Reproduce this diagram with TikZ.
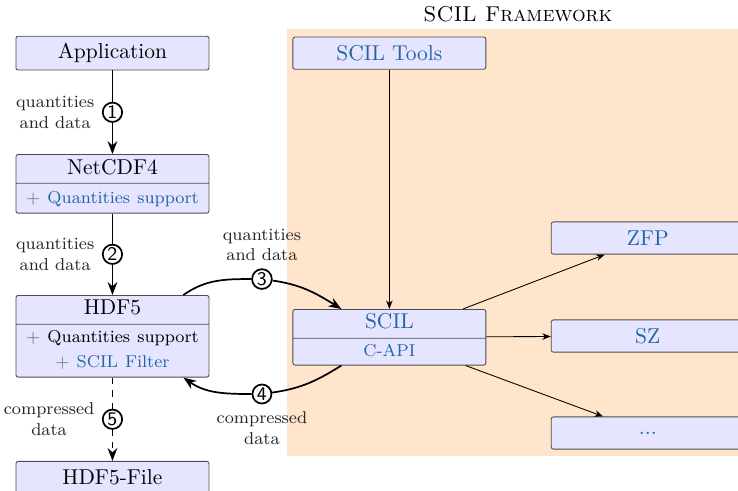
\documentclass[tikz,border=0pt]{standalone}
\usepackage{tikz}
\usetikzlibrary{positioning,shapes.multipart,arrows.meta}

\definecolor{scilblau}{RGB}{35,100,165}
\newcommand{\pluszeichen}{\textcolor{black!55}{+}}
% unsichtbare Stuetze: Tiefe, Gesamthoehe
\newcommand{\stuetze}[2]{\rule[-#1]{0pt}{#2}}

\begin{document}
\begin{tikzpicture}[
    kasten/.style={draw=black!70, fill=blue!10, rounded corners=1pt, text width=85pt,
        align=center, inner xsep=2.4pt, minimum height=15pt},
    doppel/.style={kasten, rectangle split, rectangle split parts=2, inner ysep=0.5pt,
        minimum height=0pt},
    nummer/.style={circle, draw, thick, solid, fill=white, inner sep=0.5pt,
        minimum size=8.5pt, font=\sffamily\small},
    notiz/.style={align=center, font=\footnotesize, text=black!85},
    fluss/.style={thick, -{Stealth[length=6pt,width=4.5pt]}},
    fein/.style={thin, -{Stealth[length=4pt,width=3pt]}}
  ]
    % Bildausschnitt
    \useasboundingbox (0,0) rectangle (12.07,8.03);
    \clip (0,0) rectangle (12.07,8.03);

    % Hintergrund des Frameworks
    \fill[orange!20] (4.692,0.572) rectangle (12.25,7.554);
    \node (titel) at (8.47,7.80) {\textsc{SCIL Framework}};

    % Linke Spalte
    \node[kasten] (app) at (1.839,7.161) {Application};
    \node[doppel, anchor=north] (net) at (1.839,5.510)
        {\strut NetCDF4 \nodepart{two} \footnotesize\stuetze{4pt}{12.5pt}\pluszeichen\
         \textcolor{scilblau}{Quantities support}};
    \node[doppel, anchor=north] (hdf) at (1.839,3.205)
        {\strut HDF5 \nodepart{two} \footnotesize\stuetze{0pt}{8pt}\pluszeichen\ Quantities support\\[-0.4pt]
         \pluszeichen\ \textcolor{scilblau}{SCIL Filter}\stuetze{3.6pt}{3.6pt}};
    \node[kasten, anchor=north] (datei) at (1.839,0.4905) {HDF5-File};

    % Framework-Kaesten
    \node[kasten, text=scilblau] (tools) at (6.368,7.161) {SCIL Tools};
    \node[doppel, anchor=north, text=scilblau] (scil) at (6.368,2.976)
        {\strut SCIL \nodepart{two} \footnotesize\stuetze{3.3pt}{11.1pt}C-API};
    \node[kasten, text=scilblau, anchor=west] (zfp) at (9.009,4.137) {ZFP};
    \node[kasten, text=scilblau, anchor=west] (sz) at (9.009,2.534) {SZ};
    \node[kasten, text=scilblau, anchor=west] (rest) at (9.009,0.948) {...};

    % Datenfluss links
    \draw[fluss] (app) -- node[nummer] (n1) {1} (net);
    \node[notiz, left=0pt of n1] {quantities\\and data};
    \draw[fluss] (net) -- node[nummer] (n2) {2} (hdf);
    \node[notiz, left=0pt of n2] {quantities\\and data};
    \draw[fluss, dashed] (hdf) -- node[nummer] (n5) {5} (datei);
    \node[notiz, left=0pt of n5] {compressed\\data};

    % Hin und zurueck zu SCIL
    \node[nummer] (n3) at (4.284,3.466) {3};
    \draw[fluss] ([xshift=-0.425cm]hdf.north east) to[out=35,in=180] (n3)
        to[out=-8,in=148] ([xshift=0.8cm]scil.north west);
    \node[notiz, above=0pt of n3] {quantities\\and data};
    \node[nummer] (n4) at (4.284,1.586) {4};
    \draw[fluss] ([xshift=0.8cm]scil.south west) to[out=212,in=8] (n4)
        to[out=180,in=-35] ([xshift=-0.425cm]hdf.south east);
    \node[notiz, below=0pt of n4] {compressed\\data};

    % Kompressoren
    \draw[fein] (tools) -- (scil);
    \draw[fein] (scil) -- (zfp);
    \draw[fein] (scil) -- (sz);
    \draw[fein] (scil) -- (rest);
\end{tikzpicture}
\end{document}
